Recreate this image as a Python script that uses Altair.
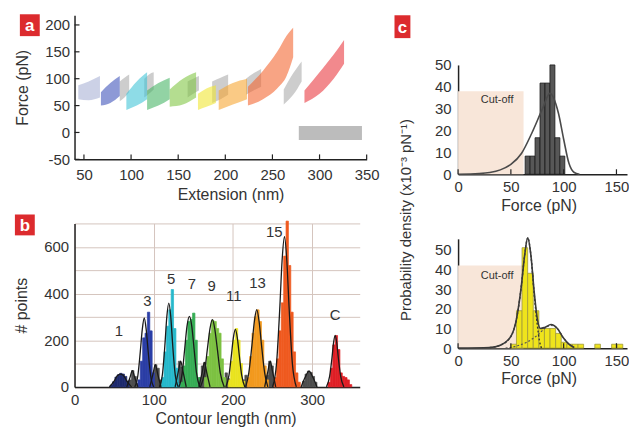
import altair as alt
import pandas as pd

FONT = "Liberation Sans"
INK = "#222222"
LBL = "#333333"
RED = "#dc2b2e"

# ---------------- panel a : force-extension clouds ----------------
a_names = ["u1", "g1", "g2", "g3", "g4", "g5", "g6", "g0",
           "s3", "s5", "s7", "s9", "s11", "s13", "s15", "sC"]
a_colors = ["#a7b0d4", "#a8a8a8", "#a8a8a8", "#a8a8a8", "#a8a8a8", "#a8a8a8", "#a8a8a8", "#8c8c8c",
            "#3a4fb8", "#3cc2d6", "#44b462", "#7dc540", "#efe62c", "#f6a42c", "#f3622b", "#e9343b"]
a_x = [[44, 55, 67], [88, 93, 98], [114, 119, 124], [160, 166, 172], [186, 195, 203],
       [222, 230, 238], [262, 272, 281], [278, 345],
       [68, 78, 88], [95, 106, 117], [117, 129, 141], [141, 155, 169], [171, 180, 190],
       [193, 208, 223], [224, 240, 255, 265, 272], [284, 300, 315, 326]]
a_lo = [[62, 60, 65], [58, 65, 75], [65, 72, 80], [65, 72, 78], [55, 62, 70],
        [70, 78, 85], [52, 70, 95], [-14, -14],
        [50, 55, 68], [42, 50, 62], [42, 50, 62], [48, 52, 65], [42, 48, 55],
        [42, 52, 62], [50, 62, 82, 105, 140], [55, 72, 100, 128]]
a_hi = [[88, 95, 105], [95, 102, 108], [100, 108, 112], [95, 100, 105], [95, 102, 108],
        [100, 110, 118], [80, 110, 132], [12, 12],
        [75, 92, 105], [72, 95, 112], [78, 92, 102], [80, 100, 112], [72, 82, 88],
        [78, 92, 100], [85, 115, 150, 180, 195], [78, 112, 145, 172]]
a_xticks = [50, 100, 150, 200, 250, 300, 350]
a_yticks = [-50, 0, 50, 100, 150, 200]

# ---------------- panel b : contour-length histogram ----------------
b_names = ["g1", "g3", "g5", "g7", "g9", "g11", "g13", "g15",
           "p1", "p3", "p5", "p7", "p9", "p11", "p13", "p15", "pC"]
b_colors = ["#4d4d4d"] * 8 + ["#1e2a6e", "#2b3ea6", "#27b8cb", "#37ad55", "#7dc242",
                              "#eae31f", "#f29a1f", "#ef5a1f", "#e01f26"]
b_start = [69, 98, 128, 157, 187, 212, 242, 288, 45, 80, 110, 134, 164, 194, 218, 252, 320]
b_counts = [
    [30, 70, 45, 15],
    [40, 95, 80, 30],
    [50, 110, 85, 30],
    [40, 90, 105, 70, 20],
    [30, 60, 35],
    [30, 50, 25],
    [50, 110, 90, 35],
    [25, 55, 68, 62, 45, 20],
    [8, 22, 42, 52, 58, 55, 45, 25],
    [30, 110, 210, 230, 320, 240, 60],
    [40, 150, 260, 330, 417, 250, 80, 15],
    [20, 90, 200, 280, 290, 316, 200, 40],
    [40, 130, 230, 285, 280, 250, 230, 120, 40],
    [30, 110, 200, 250, 200, 100, 25],
    [40, 130, 230, 300, 330, 280, 200, 90, 30],
    [40, 120, 240, 360, 560, 710, 520, 320, 150, 60, 20],
    [20, 80, 180, 220, 160, 60, 45, 40, 30, 10],
]
b_bin = 3
b_fit_names = ["p1", "g1", "p3", "g3", "p5", "g5", "p7", "g7", "p9", "p11", "p13", "g13", "p15", "g15", "pC"]
b_fit_x = [
    [44, 50, 54, 58, 62, 66, 72],
    [66, 70, 73, 76, 80],
    [76, 80, 83, 85.5, 88, 90.5, 93, 96, 100],
    [95, 99, 102, 105, 109],
    [107, 111, 114, 116.5, 119, 121.5, 124, 127, 131],
    [127, 131, 134, 137, 141],
    [132, 136, 139, 142, 145, 148, 151, 154, 158],
    [157, 161, 164, 167, 171],
    [159, 164, 168, 171, 174, 177, 180, 184, 189],
    [191, 195, 198, 200.5, 203, 205.5, 208, 211, 215],
    [216, 220, 224, 227, 230, 233, 236, 240, 244],
    [240, 244, 247, 250, 254],
    [250, 255, 259, 262, 265, 268, 271, 275, 280],
    [286, 291, 296, 301, 306],
    [318, 322, 325, 327, 329, 331, 333, 336, 340],
]
b_fit_y = [
    [0, 25, 48, 55, 48, 25, 0],
    [0, 40, 70, 40, 0],
    [0, 50, 150, 245, 295, 245, 150, 50, 0],
    [0, 55, 95, 55, 0],
    [0, 55, 175, 300, 359, 300, 175, 55, 0],
    [0, 65, 110, 65, 0],
    [0, 60, 160, 260, 302, 260, 160, 60, 0],
    [0, 60, 105, 60, 0],
    [0, 60, 170, 250, 288, 250, 170, 60, 0],
    [0, 50, 135, 210, 246, 210, 135, 50, 0],
    [0, 60, 180, 280, 331, 280, 180, 60, 0],
    [0, 65, 110, 65, 0],
    [0, 100, 330, 540, 643, 540, 330, 100, 0],
    [0, 40, 68, 40, 0],
    [0, 45, 125, 190, 221, 190, 125, 45, 0],
]
b_lab = ["1", "3", "5", "7", "9", "11", "13", "15", "C"]
b_lab_x = [56, 92, 122, 148, 173, 201, 231, 252, 329]
b_lab_y = [238, 369, 462, 440, 434, 387, 444, 664, 309]

# ---------------- panel c : rupture-force histograms ----------------
ct_x0 = [63.5, 68.2, 72.9, 77.6, 82.3, 87.0, 91.7, 96.4]
ct_w = 4.7
ct_val = [8.3, 8.3, 16.7, 41.7, 41.7, 50.0, 16.7, 8.3]
ct_fx = [0, 20, 30, 40, 50, 60, 70, 80, 87, 95, 100, 105, 110, 115]
ct_fy = [0, 0.3, 0.8, 2, 4.5, 9.5, 19, 30, 37, 28, 16, 5, 0.8, 0]

cb_x0 = [50, 55.3, 60.6, 65.9, 71.2, 76.5, 81.8, 87.1, 92.4, 97.7, 103.0, 108.3, 113.6, 129.5, 145.4, 150.7]
cb_w = 5.3
cb_val = [2, 19, 51, 38, 19, 10, 10, 10, 7.5, 3, 2, 2, 2, 2, 2, 2]
cb_fx = [0, 30, 40, 50, 55, 60, 63, 66, 69, 72, 75, 78, 82, 88, 94, 100, 105, 110]
cb_fy = [0, 0.3, 1.5, 6, 14, 32, 47, 56, 47, 29, 15, 10, 10.5, 12, 10, 5, 2, 0.3]
cb_d1x = [30, 40, 50, 55, 60, 63, 66, 69, 72, 75, 77, 79]
cb_d1y = [0.3, 1.5, 6, 14, 32, 47, 56, 47, 28, 12, 4, 0]
cb_d2x = [45, 55, 65, 75, 82, 88, 94, 100, 105, 110]
cb_d2y = [0, 1, 3, 6.5, 10, 11.5, 10, 5, 2, 0.3]
c_xticks = [0, 50, 100, 150]
c_yticks = [0, 10, 20, 30, 40, 50]
cutoff_x = [0, 62]
cutoff_top = [38, 42]
cutoff_lab = [(37, 34), (37, 36.5)]


def axis(title, values, lp, tp, **kw):
    return alt.Axis(title=title, values=values, grid=kw.pop("grid", False), ticks=False,
                    labelPadding=lp, titlePadding=tp, domainColor=INK, domainWidth=1.5,
                    labelFlush=False, labelOverlap=False, labelFontSize=15, titleFontSize=16,
                    labelColor=LBL, titleColor=LBL, titleFontWeight="normal",
                    labelFont=FONT, titleFont=FONT, **kw)


one = pd.DataFrame({"k": [0]})


def panel_tag(letter, x0, y0, w=20, h=22):
    box = alt.Chart(one).mark_rect(color=RED).encode(
        x=alt.value(x0), x2=alt.value(x0 + w), y=alt.value(y0), y2=alt.value(y0 + h))
    txt = alt.Chart(one).mark_text(text=letter, color="white", font=FONT, fontSize=17,
                                   fontWeight="bold", baseline="middle", align="center").encode(
        x=alt.value(x0 + w / 2), y=alt.value(y0 + h / 2 + 1))
    return [box, txt]


# ----- panel a chart -----
AW, AH = 294, 145
rows = []
for i, n in enumerate(a_names):
    for x, lo, hi in zip(a_x[i], a_lo[i], a_hi[i]):
        rows.append({"seg": n, "col": a_colors[i], "x": x, "lo": lo, "hi": hi})
a_df = pd.DataFrame(rows)
ax_sc = alt.Scale(domain=[40, 350], nice=False, zero=False)
ay_sc = alt.Scale(domain=[-50, 218], nice=False, zero=False)
a_xax = axis("Extension (nm)", a_xticks, 8, 4, titleX=157)
a_yax = axis("Force (pN)", a_yticks, 5, 14, labelExpr="'' + datum.value")

a_area = alt.Chart(a_df).mark_area(opacity=0.58, interpolate="monotone").encode(
    x=alt.X("x:Q", scale=ax_sc, axis=a_xax),
    y=alt.Y("lo:Q", scale=ay_sc, axis=a_yax),
    y2="hi:Q",
    color=alt.Color("col:N", scale=None),
    detail="seg:N",
)
a_xt = alt.Chart(pd.DataFrame({"x": a_xticks})).mark_rule(color=INK, strokeWidth=1.2).encode(
    x=alt.X("x:Q", scale=ax_sc, axis=a_xax), y=alt.value(AH), y2=alt.value(AH - 5))
a_yt = alt.Chart(pd.DataFrame({"lo": a_yticks})).mark_rule(color=INK, strokeWidth=1.2).encode(
    y=alt.Y("lo:Q", scale=ay_sc, axis=a_yax), x=alt.value(0), x2=alt.value(5))
# invisible marker fixing the right edge of the left column
a_edge = alt.Chart(one).mark_rule(color="white", strokeWidth=1).encode(
    x=alt.value(AW + 20), y=alt.value(AH - 2), y2=alt.value(AH - 1))
panel_a = alt.layer(a_area, a_xt, a_yt, a_edge, *panel_tag("a", -55, -1)).properties(width=AW, height=AH)

# ----- panel b chart -----
BW, BH = 287, 164.5
rows = []
for i, n in enumerate(b_names):
    for j, c in enumerate(b_counts[i]):
        x0 = b_start[i] + j * b_bin
        rows.append({"grp": n, "col": b_colors[i], "x": x0, "x1": x0 + b_bin, "n": c, "base": 0})
b_df = pd.DataFrame(rows)
rows = []
for i, n in enumerate(b_fit_names):
    for x, y in zip(b_fit_x[i], b_fit_y[i]):
        rows.append({"fit": n, "x": x, "n": y})
bf_df = pd.DataFrame(rows)
bx_sc = alt.Scale(domain=[0, 360], nice=False, zero=False)
by_sc = alt.Scale(domain=[0, 700], nice=False)
b_xax = axis("Contour length (nm)", [0, 100, 200, 300], 6, 3, grid=True, gridColor="#d5c5bd",
             titleX=152)
b_yax = axis("# points", [0, 100, 200, 300, 400, 500, 600, 700], 6, 14, grid=True, gridColor="#d5c5bd",
             labelExpr="(datum.value % 200 == 0 && datum.value < 700) ? datum.label : ''")
b_bars = alt.Chart(b_df).mark_rect(strokeWidth=0.7).encode(
    x=alt.X("x:Q", scale=bx_sc, axis=b_xax), x2="x1:Q",
    y=alt.Y("n:Q", scale=by_sc, axis=b_yax), y2="base:Q",
    color=alt.Color("col:N", scale=None),
    stroke=alt.Stroke("col:N", scale=None),
)
b_fits = alt.Chart(bf_df).mark_line(color="#1a1a1a", strokeWidth=1.3, interpolate="monotone").encode(
    x=alt.X("x:Q", scale=bx_sc, axis=b_xax), y=alt.Y("n:Q", scale=by_sc, axis=b_yax), detail="fit:N")
b_labels = alt.Chart(pd.DataFrame({"t": b_lab, "x": b_lab_x, "n": b_lab_y})).mark_text(
    font=FONT, fontSize=15, color=LBL, baseline="middle").encode(
    x=alt.X("x:Q", scale=bx_sc, axis=b_xax), y=alt.Y("n:Q", scale=by_sc, axis=b_yax), text="t:N")
panel_b = alt.layer(b_bars, b_fits, b_labels, *panel_tag("b", -60, -9, 20, 21)).properties(width=BW, height=BH)


# ----- panel c charts -----
CW, CH = 170, 110


def c_panel(x0s, w, vals, fill, stroke, ymax, cut_top, cut_lab, lines, tag=None, extra=None):
    xs = alt.Scale(domain=[0, 160], nice=False, zero=False)
    ys = alt.Scale(domain=[0, ymax], nice=False)
    xax = axis("Force (pN)", c_xticks, 5, 3, titleX=81)
    yax = axis(None, c_yticks, 7, 4)
    X = lambda f: alt.X(f, type="quantitative", scale=xs, axis=xax)
    Y = lambda f: alt.Y(f, type="quantitative", scale=ys, axis=yax)
    cut = alt.Chart(pd.DataFrame({"x": [cutoff_x[0]], "x1": [cutoff_x[1]], "y": [0], "y1": [cut_top]})).mark_rect(
        color="#f8e6d9").encode(x=X("x"), x2="x1:Q", y=Y("y"), y2="y1:Q")
    cut_t = alt.Chart(pd.DataFrame({"x": [cut_lab[0]], "y": [cut_lab[1]]})).mark_text(
        text="Cut-off", font=FONT, fontSize=11, color=LBL).encode(x=X("x"), y=Y("y"))
    df = pd.DataFrame({"x": x0s, "x1": [v + w for v in x0s], "y": vals, "base": [0] * len(x0s)})
    bars = alt.Chart(df).mark_rect(color=fill, stroke=stroke, strokeWidth=0.8).encode(
        x=X("x"), x2="x1:Q", y=Y("y"), y2="base:Q")
    layers = [cut, cut_t, bars]
    for lx, ly, col, wdt, dash in lines:
        mk = dict(color=col, strokeWidth=wdt, interpolate="monotone")
        if dash:
            mk["strokeDash"] = dash
        layers.append(alt.Chart(pd.DataFrame({"x": lx, "y": ly})).mark_line(**mk).encode(x=X("x"), y=Y("y")))
    layers.append(alt.Chart(pd.DataFrame({"x": c_xticks})).mark_rule(color=INK, strokeWidth=1.2).encode(
        x=X("x"), y=alt.value(CH), y2=alt.value(CH - 5)))
    if tag:
        layers += tag
    if extra:
        layers += extra
    return alt.layer(*layers).properties(width=CW, height=CH)


prob_title = alt.Chart(one).mark_text(
    text="Probability density (x10\u207b\u00b3 pN\u207b\u00b9)", angle=270, font=FONT, fontSize=15,
    color=LBL, baseline="middle", align="center").encode(x=alt.value(-52), y=alt.value(156))

c_top = c_panel(ct_x0, ct_w, ct_val, "#575757", "#1a1a1a", 50, cutoff_top[0], cutoff_lab[0],
                [(ct_fx, ct_fy, "#4a4a4a", 1.6, None)],
                tag=panel_tag("c", -64, -50, 16, 23), extra=[prob_title])
c_bot = c_panel(cb_x0, cb_w, cb_val, "#efe41c", "#a09a3a", 55.5, cutoff_top[1], cutoff_lab[1],
                [(cb_d2x, cb_d2y, "#555555", 1.2, [2, 2]),
                 (cb_d1x, cb_d1y, "#333333", 1.4, [2, 2]),
                 (cb_fx, cb_fy, "#3a3a3a", 1.6, None)])

spacer = alt.Chart(one).mark_point(opacity=0).encode(x=alt.value(0), y=alt.value(0)).properties(width=CW, height=1)

left = alt.vconcat(panel_a, panel_b, spacing=64.5, bounds="flush")
right = alt.vconcat(spacer, alt.vconcat(c_top, c_bot, spacing=65, bounds="flush"), spacing=49, bounds="flush")
chart = alt.hconcat(left, right, spacing=7).configure_view(stroke=None).properties(
    padding={"left": 13, "top": 11, "right": 0, "bottom": 0}, background="white")

chart.save("out.html", embed_options={"renderer": "svg", "actions": False})
